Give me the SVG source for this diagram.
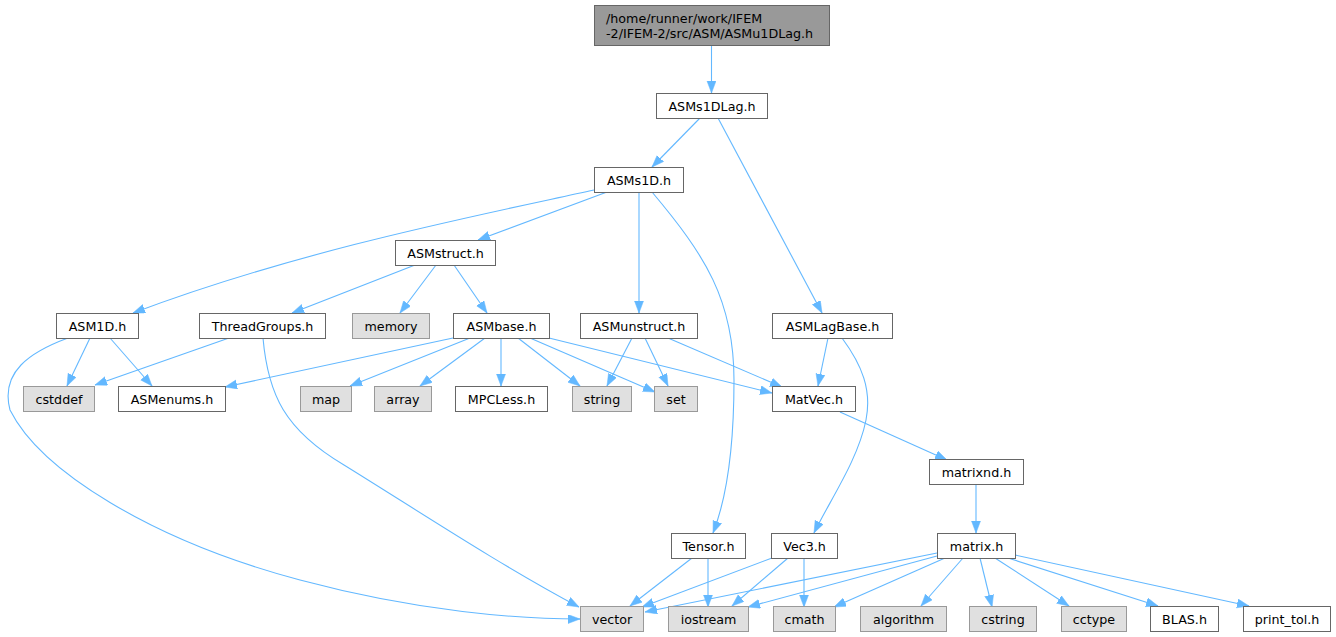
<svg xmlns="http://www.w3.org/2000/svg" width="1336" height="637" viewBox="0 0 1336 637">
<style>
.n rect{fill:#ffffff;stroke:#666666;stroke-width:1}
.s rect{fill:#e0e0e0;stroke:#999999;stroke-width:1}
.r rect{fill:#999999;stroke:#666666;stroke-width:1}
text{font-family:"DejaVu Sans","Liberation Sans",sans-serif;font-size:12.7px;fill:#000000}
.c text{text-anchor:middle}
#edges path{fill:none;stroke:#63b8ff;stroke-width:1.1;marker-end:url(#ah)}
</style>
<defs>
<marker id="ah" markerUnits="userSpaceOnUse" markerWidth="13" markerHeight="10" refX="12" refY="4.5" orient="auto">
<path d="M0,0 L12,4.5 L0,9 z" fill="#63b8ff" stroke="#63b8ff" stroke-width="0.5"/>
</marker>
</defs>
<rect width="1336" height="637" fill="#ffffff"/>
<g id="edges">
<path d="M711.5,45 L711.5,93"/>
<path d="M700,118 L652,167"/>
<path d="M718,118 L822,313"/>
<path d="M594,190 C480,215 300,250 133,313"/>
<path d="M607,192 L478,240"/>
<path d="M639,192 L639,313"/>
<path d="M652,192 C705,255 734,300 734,380 C734,450 726,500 713,533"/>
<path d="M415,265 L292,313"/>
<path d="M436,265 L400,313"/>
<path d="M454,265 L487,313"/>
<path d="M90,338 L67,386"/>
<path d="M110,338 L152,386"/>
<path d="M68,338 C30,352 0,372 10,410 C40,470 150,540 300,580 C420,612 520,619 580,619"/>
<path d="M229,338 L95,385"/>
<path d="M263,338 C268,395 285,430 344,465 C420,512 500,565 579,607"/>
<path d="M453,338 L225,387"/>
<path d="M470,338 L350,386"/>
<path d="M485,338 L420,386"/>
<path d="M501,338 L501,386"/>
<path d="M518,338 L580,386"/>
<path d="M530,338 L655,392"/>
<path d="M549,338 L772,393"/>
<path d="M632,338 L607,386"/>
<path d="M645,338 L668,386"/>
<path d="M668,338 L782,387"/>
<path d="M828,338 L818,386"/>
<path d="M842,338 C862,365 872,390 866,420 C858,460 830,500 814,533"/>
<path d="M840,412 L947,460"/>
<path d="M976,485 L976,533"/>
<path d="M692,558 L630,606"/>
<path d="M708,558 L708,607"/>
<path d="M772,558 L642,607"/>
<path d="M788,558 L732,606"/>
<path d="M804,558 L804,607"/>
<path d="M937,553 L645,612"/>
<path d="M937,556 L748,607"/>
<path d="M945,558 L834,607"/>
<path d="M963,558 L921,606"/>
<path d="M980,558 L992,607"/>
<path d="M995,558 L1069,606"/>
<path d="M1008,558 L1158,606"/>
<path d="M1015,555 L1249,606"/>
</g>
<g id="node_top" class="r"><rect x="594.5" y="5.5" width="235" height="40"/><text x="606" y="23">/home/runner/work/IFEM</text><text x="606" y="38">-2/IFEM-2/src/ASM/ASMu1DLag.h</text></g>
<g id="node_ASMs1DLag" class="n c"><rect x="656.5" y="93.5" width="111" height="25"/><text x="712" y="111">ASMs1DLag.h</text></g>
<g id="node_ASMs1D" class="n c"><rect x="594.5" y="167.5" width="89" height="25"/><text x="639" y="185">ASMs1D.h</text></g>
<g id="node_ASMstruct" class="n c"><rect x="395.5" y="240.5" width="100" height="25"/><text x="445.5" y="258">ASMstruct.h</text></g>
<g id="node_ASM1D" class="n c"><rect x="56.5" y="313.5" width="82" height="25"/><text x="97.5" y="331">ASM1D.h</text></g>
<g id="node_ThreadGroups" class="n c"><rect x="199.5" y="313.5" width="126" height="25"/><text x="262.5" y="331">ThreadGroups.h</text></g>
<g id="node_memory" class="s c"><rect x="352.5" y="313.5" width="77" height="25"/><text x="391" y="331">memory</text></g>
<g id="node_ASMbase" class="n c"><rect x="453.5" y="313.5" width="96" height="25"/><text x="501.5" y="331">ASMbase.h</text></g>
<g id="node_ASMunstruct" class="n c"><rect x="580.5" y="313.5" width="117" height="25"/><text x="639" y="331">ASMunstruct.h</text></g>
<g id="node_ASMLagBase" class="n c"><rect x="772.5" y="313.5" width="120" height="25"/><text x="832.5" y="331">ASMLagBase.h</text></g>
<g id="node_cstddef" class="s c"><rect x="23.5" y="386.5" width="71" height="25"/><text x="59" y="404">cstddef</text></g>
<g id="node_ASMenums" class="n c"><rect x="118.5" y="386.5" width="107" height="25"/><text x="172" y="404">ASMenums.h</text></g>
<g id="node_map" class="s c"><rect x="300.5" y="386.5" width="51" height="25"/><text x="326" y="404">map</text></g>
<g id="node_array" class="s c"><rect x="374.5" y="386.5" width="57" height="25"/><text x="403" y="404">array</text></g>
<g id="node_MPCLess" class="n c"><rect x="455.5" y="386.5" width="92" height="25"/><text x="501.5" y="404">MPCLess.h</text></g>
<g id="node_string" class="s c"><rect x="572.5" y="386.5" width="59" height="25"/><text x="602" y="404">string</text></g>
<g id="node_set" class="s c"><rect x="654.5" y="386.5" width="43" height="25"/><text x="676" y="404">set</text></g>
<g id="node_MatVec" class="n c"><rect x="772.5" y="386.5" width="83" height="25"/><text x="814" y="404">MatVec.h</text></g>
<g id="node_matrixnd" class="n c"><rect x="929.5" y="459.5" width="94" height="25"/><text x="976.5" y="477">matrixnd.h</text></g>
<g id="node_Tensor" class="n c"><rect x="671.5" y="533.5" width="74" height="25"/><text x="708.5" y="551">Tensor.h</text></g>
<g id="node_Vec3" class="n c"><rect x="771.5" y="533.5" width="66" height="25"/><text x="804.5" y="551">Vec3.h</text></g>
<g id="node_matrix" class="n c"><rect x="937.5" y="533.5" width="78" height="25"/><text x="976.5" y="551">matrix.h</text></g>
<g id="node_vector" class="s c"><rect x="580.5" y="606.5" width="63" height="25"/><text x="612" y="624">vector</text></g>
<g id="node_iostream" class="s c"><rect x="668.5" y="606.5" width="80" height="25"/><text x="708.5" y="624">iostream</text></g>
<g id="node_cmath" class="s c"><rect x="773.5" y="606.5" width="62" height="25"/><text x="804.5" y="624">cmath</text></g>
<g id="node_algorithm" class="s c"><rect x="860.5" y="606.5" width="86" height="25"/><text x="903.5" y="624">algorithm</text></g>
<g id="node_cstring" class="s c"><rect x="969.5" y="606.5" width="67" height="25"/><text x="1003" y="624">cstring</text></g>
<g id="node_cctype" class="s c"><rect x="1061.5" y="606.5" width="65" height="25"/><text x="1094" y="624">cctype</text></g>
<g id="node_BLAS" class="n c"><rect x="1150.5" y="606.5" width="68" height="25"/><text x="1184.5" y="624">BLAS.h</text></g>
<g id="node_print_tol" class="n c"><rect x="1243.5" y="606.5" width="87" height="25"/><text x="1287" y="624">print_tol.h</text></g>
</svg>
